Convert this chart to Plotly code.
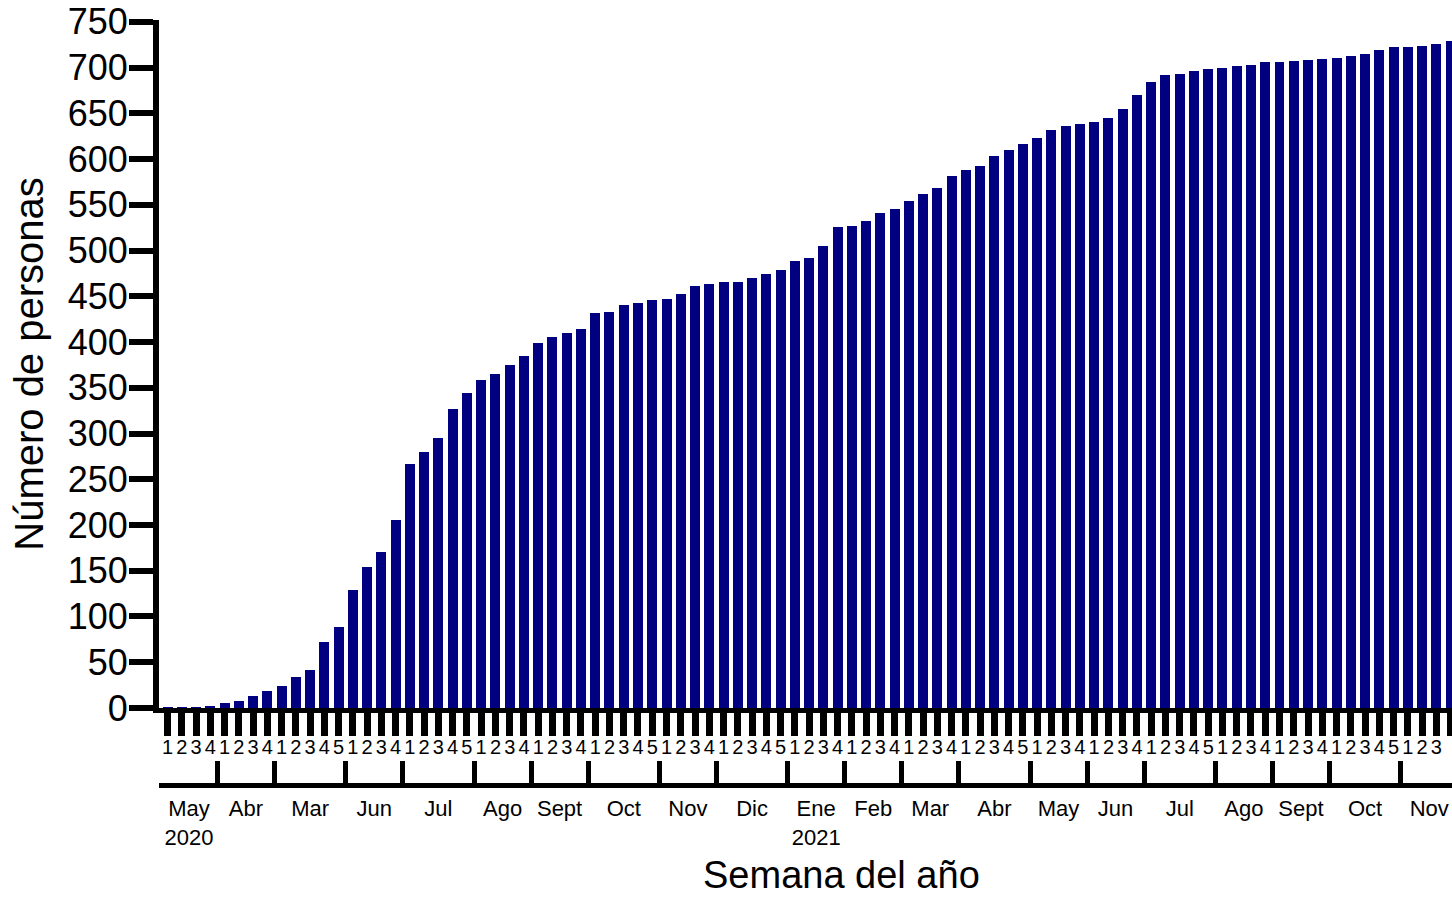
import plotly.graph_objects as go

# Cumulative number of people per week
cumulative = [1, 1, 1, 2, 5, 8, 13, 19, 24, 34, 42, 72, 88, 129, 154, 171, 206, 267, 280, 295,
              327, 344, 358, 365, 375, 385, 399, 405, 410, 414, 432, 433, 441, 443, 446, 447, 452,
              461, 463, 466, 466, 470, 474, 479, 489, 492, 505, 526, 527, 532, 541, 545, 554, 562,
              568, 582, 588, 592, 603, 610, 616, 623, 632, 636, 638, 640, 645, 655, 670, 684, 692,
              693, 696, 698, 700, 702, 703, 706, 706, 707, 708, 709, 711, 713, 715, 719, 722, 723,
              724, 726, 729]

months = ["May<br>2020", "Abr", "Mar", "Jun", "Jul", "Ago", "Sept", "Oct", "Nov", "Dic",
          "Ene<br>2021", "Feb", "Mar", "Abr", "May", "Jun", "Jul", "Ago", "Sept", "Oct", "Nov"]
weeks_per_month = [4, 4, 5, 4, 5, 4, 4, 5, 4, 5, 4, 4, 4, 5, 4, 4, 5, 4, 4, 5, 4]

y_ticks = list(range(0, 751, 50))

week_labels = []
for n in weeks_per_month:
    week_labels += [str(i) for i in range(1, n + 1)]
x = list(range(len(cumulative)))

boundaries, centers = [], []
start = 0
for n in weeks_per_month:
    boundaries.append(start - 0.5)
    centers.append(start + (n - 1) / 2)
    start += n
boundaries.append(start - 0.5)
boundaries[0] = -0.75

FONT = "Liberation Sans, Arial, sans-serif"
xrange_ = [-0.6, 90.1]

fig = go.Figure()
fig.add_trace(go.Bar(x=x, y=cumulative, width=0.7, marker_color="#000080",
                     marker_line_width=0, xaxis="x", yaxis="y", showlegend=False))
fig.add_trace(go.Scatter(x=[0], y=[0], xaxis="x2", yaxis="y", mode="markers",
                         marker_opacity=0, showlegend=False, hoverinfo="skip"))
fig.add_trace(go.Scatter(x=[0], y=[0], xaxis="x3", yaxis="y", mode="markers",
                         marker_opacity=0, showlegend=False, hoverinfo="skip"))

fig.update_layout(
    width=1452, height=900,
    margin=dict(l=159, r=0, t=20, b=115),
    paper_bgcolor="white", plot_bgcolor="white",
    font=dict(family=FONT, color="black"),
    bargap=0,
    yaxis=dict(
        domain=[0.1007, 1], range=[0, 752], tickvals=y_ticks,
        ticks="outside", ticklen=24, tickwidth=6, tickcolor="black",
        showline=True, linewidth=6, linecolor="black",
        showgrid=False, zeroline=False,
        tickfont=dict(size=36, family=FONT, color="black"),
        ticklabelstandoff=-6,
        title=dict(text="Número de personas", font=dict(size=40, family=FONT, color="black"),
                   standoff=14),
    ),
    xaxis=dict(
        anchor="y", range=xrange_, tickmode="array", tickvals=x, ticktext=week_labels,
        ticks="outside", ticklen=23, tickwidth=7, tickcolor="black",
        showline=True, linewidth=5, linecolor="black",
        showgrid=False, zeroline=False,
        tickfont=dict(size=20, family=FONT, color="black"),
        ticklabelstandoff=-6,
    ),
    xaxis2=dict(
        overlaying="x", anchor="free", position=0, side="bottom",
        range=xrange_, tickmode="array", tickvals=boundaries,
        ticks="inside", ticklen=22, tickwidth=5, tickcolor="black",
        showline=True, linewidth=5, linecolor="black",
        showgrid=False, zeroline=False, showticklabels=False,
    ),
    xaxis3=dict(
        overlaying="x", anchor="free", position=0, side="bottom",
        range=xrange_, tickmode="array", tickvals=centers, ticktext=months,
        ticks="", showline=False, showgrid=False, zeroline=False,
        tickfont=dict(size=22, family=FONT, color="black"),
        ticklabelstandoff=8,
    ),
    annotations=[dict(
        text="Semana del año", xref="paper", yref="paper", x=0.528, y=0,
        xanchor="center", yanchor="middle", yshift=-90, showarrow=False,
        borderpad=0,
        font=dict(size=38, family=FONT, color="black"),
    )],
)

fig.write_html("out.html", config={"displayModeBar": False},
               post_script="document.body.style.margin='0';")
